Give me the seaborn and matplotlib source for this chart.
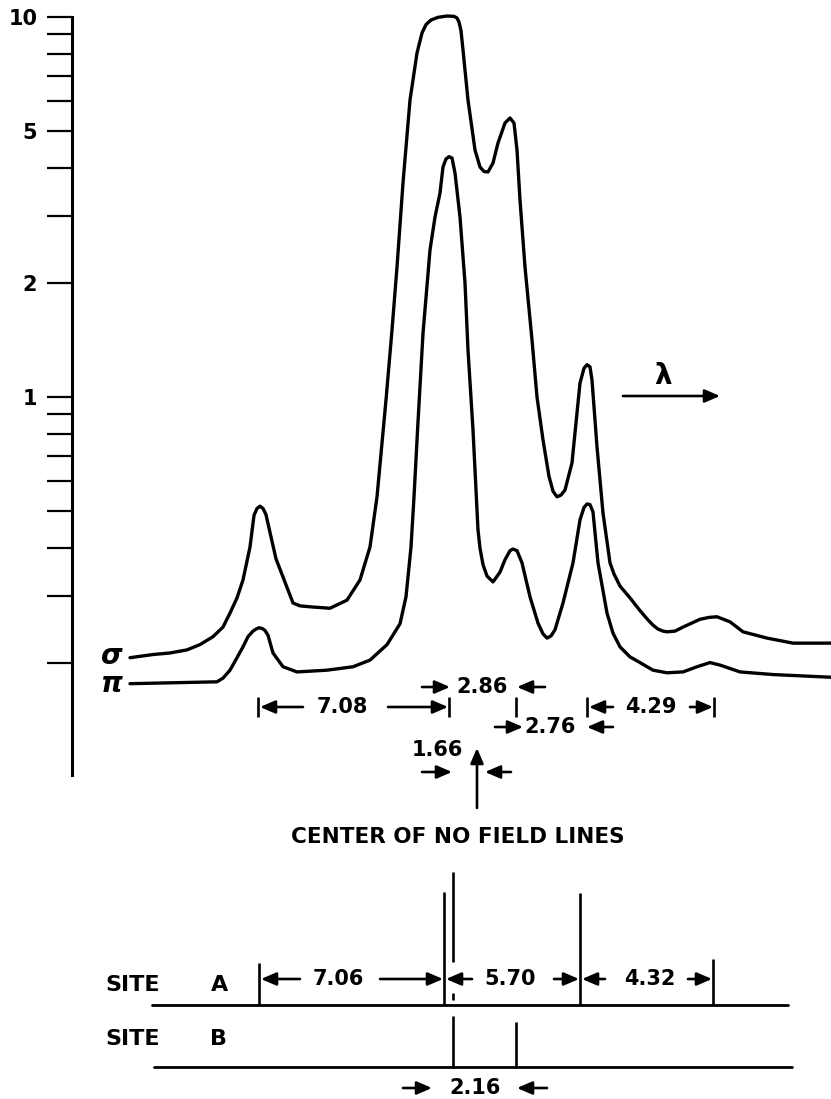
# ---------------------------
# ZEEMAN PATTERN: SIGMA / PI COMPONENTS + SITE LINES
# ---------------------------

import numpy as np
import pandas as pd
import matplotlib
matplotlib.use("Agg")
import matplotlib.pyplot as plt
import seaborn as sns

# ---------------------------
# DATA (x = position along the trace, y = intensity, log axis)
# ---------------------------

sigma_x = [130, 153, 170, 187, 200, 213, 223, 230, 237, 243, 250, 254, 257, 260,
           263, 266, 270, 276, 283, 293, 300, 313, 330, 347, 360, 370, 377, 386,
           392, 397, 403, 410, 417, 422, 426, 431, 438, 447, 454, 457, 459, 461,
           463, 468, 475, 480, 484, 488, 493, 498, 505, 510, 514, 517, 520, 525,
           532, 537, 543, 549, 553, 557, 561, 565, 572, 577, 580, 584, 587, 590,
           592, 597, 603, 610, 614, 620, 630, 640, 648, 653, 658, 663, 667, 675,
           683, 700, 709, 717, 730, 743, 767, 793, 831]
sigma_y = [0.206, 0.210, 0.212, 0.216, 0.223, 0.234, 0.248, 0.270, 0.296, 0.330,
           0.403, 0.488, 0.509, 0.516, 0.509, 0.490, 0.440, 0.375, 0.336, 0.287,
           0.282, 0.280, 0.278, 0.292, 0.330, 0.403, 0.546, 0.982, 1.501, 2.198,
           3.658, 6.045, 8.040, 9.077, 9.55, 9.82, 9.98, 10.06, 10.04, 9.94, 9.70,
           9.20, 8.188, 6.045, 4.467, 4.030, 3.92, 3.91, 4.128, 4.661, 5.261,
           5.423, 5.261, 4.467, 3.300, 2.198, 1.413, 1.000, 0.771, 0.618, 0.565,
           0.546, 0.552, 0.569, 0.671, 0.908, 1.088, 1.190, 1.216, 1.200, 1.108,
           0.739, 0.495, 0.366, 0.342, 0.318, 0.296, 0.274, 0.259, 0.251, 0.245,
           0.242, 0.241, 0.242, 0.248, 0.260, 0.263, 0.264, 0.256, 0.241, 0.232,
           0.225, 0.225]

pi_x = [130, 217, 223, 230, 237, 243, 248, 253, 256, 259, 262, 265, 268, 273,
        283, 297, 327, 353, 370, 387, 400, 406, 411, 414, 418, 423, 430, 435,
        440, 443, 446, 449, 452, 455, 460, 465, 468, 473, 478, 480, 483, 487,
        493, 500, 505, 510, 513, 517, 522, 530, 538, 543, 547, 551, 555, 563,
        573, 580, 584, 587, 590, 593, 598, 607, 613, 620, 630, 640, 653, 667,
        683, 697, 710, 720, 740, 773, 831]
pi_y = [0.176, 0.178, 0.182, 0.191, 0.206, 0.220, 0.234, 0.242, 0.245, 0.247,
        0.246, 0.243, 0.236, 0.212, 0.195, 0.189, 0.191, 0.195, 0.203, 0.223,
        0.253, 0.298, 0.403, 0.546, 0.860, 1.470, 2.437, 2.976, 3.442, 4.030,
        4.230, 4.290, 4.255, 3.886, 2.976, 1.995, 1.329, 0.819, 0.447, 0.400,
        0.362, 0.338, 0.326, 0.346, 0.373, 0.394, 0.398, 0.394, 0.366, 0.298,
        0.254, 0.238, 0.232, 0.235, 0.244, 0.287, 0.366, 0.475, 0.512, 0.523,
        0.521, 0.498, 0.366, 0.270, 0.239, 0.220, 0.207, 0.200, 0.191, 0.188,
        0.189, 0.195, 0.200, 0.197, 0.189, 0.186, 0.183]

ytick_major = [10, 5, 2, 1]
ytick_labels = ["10", "5", "2", "1"]
ytick_minor = [9, 8, 7, 6, 4, 3, 0.9, 0.8, 0.7, 0.6, 0.5, 0.4, 0.3, 0.2]

# measured separations on the trace
trace_dims = ["7.08", "2.86", "2.76", "4.29", "1.66"]
# separations of the site lines
site_dims = ["7.06", "5.70", "4.32", "2.16"]

# site line positions
site_a_x = [259, 444, 580, 713]
site_a_top = [963, 892, 893, 959]
site_b_x = [453, 516]
site_b_top = [1016, 1022]

# ---------------------------
# FIGURE SETUP
# ---------------------------

W, H = 831, 1099
sns.set_style("white")
plt.rcParams['font.family'] = ['DejaVu Sans']
plt.rcParams['text.color'] = 'black'
plt.rcParams['ytick.color'] = 'black'
plt.rcParams['axes.labelcolor'] = 'black'

fig = plt.figure(figsize=(W / 100, H / 100), dpi=100)

ax = fig.add_axes([72 / W, 1 - 775 / H, (W - 72) / W, (775 - 17) / H])

# ---------------------------
# TRACES
# ---------------------------

sigma_df = pd.DataFrame({"x": sigma_x, "y": sigma_y})
pi_df = pd.DataFrame({"x": pi_x, "y": pi_y})

for d in [sigma_df, pi_df]:
    sns.lineplot(data=d, x="x", y="y", ax=ax, color="black", linewidth=2.4,
                 estimator=None, sort=False, solid_joinstyle="round",
                 solid_capstyle="round", clip_on=False)

ax.set_yscale("log")
ax.set_xlim(72, W)
ax.set_ylim(0.1012, 10)
ax.set_xlabel("")
ax.set_ylabel("")
ax.set_xticks([])

ax.set_yticks(ytick_major)
ax.set_yticklabels(ytick_labels, fontweight="bold")
ax.set_yticks(ytick_minor, minor=True)
ax.yaxis.set_minor_formatter(matplotlib.ticker.NullFormatter())
ax.tick_params(axis="y", which="both", direction="out", length=18, width=1.6,
               color="black", left=True, pad=7)
ax.tick_params(axis="y", which="major", labelsize=15, labelcolor="black")

for s in ["top", "right", "bottom"]:
    ax.spines[s].set_visible(False)
ax.spines["left"].set_linewidth(2.2)
ax.spines["left"].set_color("black")
ax.patch.set_alpha(0)

# ---------------------------
# OVERLAY FOR ANNOTATIONS
# ---------------------------

ov = fig.add_axes([0, 0, 1, 1])
ov.set_xlim(0, W)
ov.set_ylim(H, 0)
ov.axis("off")
ov.patch.set_alpha(0)

FS = 15
AP = dict(arrowstyle="-|>,head_length=0.65,head_width=0.28",
          lw=1.9, color="black", shrinkA=0, shrinkB=0, mutation_scale=14)


def arrow(x0, x1, y):
    ov.annotate("", xy=(x1, y), xytext=(x0, y), arrowprops=AP)


def bar(x, y0, y1, lw=1.9):
    ov.plot([x, x], [y0, y1], color="black", lw=lw, solid_capstyle="butt")


def label(x, y, s, fs=FS, **kw):
    ov.text(x, y, s, fontsize=fs, ha="center", va="center",
            fontweight="bold", color="black", **kw)


# sigma / pi labels
label(112, 656, r"$\boldsymbol{\sigma}$", fs=20)
label(112, 684, r"$\boldsymbol{\pi}$", fs=20)

# wavelength direction
label(663, 376, "λ", fs=20)
arrow(623, 720, 396)

# 7.08
bar(258, 697, 717)
arrow(303, 260, 707)
label(342, 707, trace_dims[0])
arrow(388, 448, 707)
bar(449, 697, 717)

# 2.86
arrow(422, 450, 687)
label(482, 687, trace_dims[1])
arrow(545, 517, 687)

bar(516, 697, 717)

# 2.76
arrow(495, 523, 727)
label(550, 727, trace_dims[2])
arrow(613, 587, 727)

# 4.29
bar(587, 697, 717)
arrow(613, 589, 707)
label(651, 707, trace_dims[3])
arrow(690, 713, 707)
bar(714, 697, 717)

# 1.66 and center
label(437, 750, trace_dims[4])
arrow(422, 452, 772)
arrow(511, 485, 772)
ov.annotate("", xy=(477, 748), xytext=(477, 808), arrowprops=AP)
label(458, 837, "CENTER OF NO FIELD LINES", fs=15.5)

# ---------------------------
# SITE LINES
# ---------------------------

# site A
ov.text(105, 985, "SITE", fontsize=16, ha="left", va="center",
        fontweight="bold", color="black")
label(220, 985, "A", fs=16)
ov.plot([152, 788], [1005, 1005], color="black", lw=2.0)
for x, t in zip(site_a_x, site_a_top):
    bar(x, t, 1005)
bar(453, 872, 962)
bar(453, 993, 1000)

arrow(300, 261, 979)
label(338, 979, site_dims[0])
arrow(380, 443, 979)
arrow(472, 446, 979)
label(510, 979, site_dims[1])
arrow(554, 579, 979)
arrow(605, 582, 979)
label(650, 979, site_dims[2])
arrow(688, 712, 979)

# site B
ov.text(105, 1039, "SITE", fontsize=16, ha="left", va="center",
        fontweight="bold", color="black")
label(218, 1039, "B", fs=16)
ov.plot([154, 792], [1067, 1067], color="black", lw=2.0)
for x, t in zip(site_b_x, site_b_top):
    bar(x, t, 1067)

arrow(403, 432, 1088)
label(475, 1088, site_dims[3])
arrow(547, 517, 1088)

# ---------------------------
# SAVE
# ---------------------------

fig.savefig("out.png", dpi=100, facecolor="white")
print("saved out.png")
